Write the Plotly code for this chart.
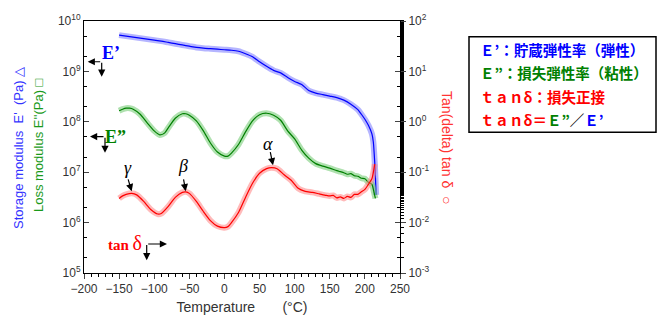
import numpy as np
import plotly.graph_objects as go

# ---------------- data ----------------
temp_e1 = [-150, -140, -130, -120, -110, -100, -90, -80, -70, -60, -50, -40, -30, -20, -10,
           0, 10, 20, 30, 40, 50, 60, 70, 80, 90, 100, 110, 120, 130, 140, 150, 160, 170,
           180, 190, 195, 200, 205, 210, 212, 214, 215, 216]
log_e1 = [9.72, 9.70, 9.68, 9.66, 9.64, 9.62, 9.60, 9.575, 9.55, 9.525, 9.50, 9.475, 9.46, 9.45, 9.44,
          9.43, 9.42, 9.40, 9.35, 9.29, 9.19, 9.10, 9.02, 8.97, 8.88, 8.80, 8.74, 8.62, 8.57, 8.54, 8.51, 8.48, 8.43,
          8.35, 8.24, 8.15, 8.05, 7.93, 7.76, 7.60, 7.20, 6.90, 6.55]

temp_e2 = [-150, -145, -140, -135, -130, -120, -110, -100, -92, -85, -80, -70, -60, -55, -50, -40, -30,
           -20, -10, 0, 5, 10, 20, 30, 40, 50, 60, 70, 80, 90, 100, 110, 120, 130, 140, 150, 160,
           165, 170, 175, 180, 185, 190, 195, 200, 205, 210, 213, 215]
log_e2 = [8.22, 8.25, 8.27, 8.27, 8.25, 8.15, 7.98, 7.82, 7.74, 7.78, 7.88, 8.07, 8.16, 8.16, 8.13, 8.02, 7.82,
          7.58, 7.40, 7.32, 7.32, 7.38, 7.55, 7.80, 8.02, 8.14, 8.17, 8.13, 8.03, 7.82, 7.66, 7.44, 7.28, 7.17, 7.12, 7.08, 7.03,
          7.01, 6.99, 6.96, 6.97, 6.93, 6.92, 6.88, 6.87, 6.80, 6.76, 6.60, 6.48]

temp_tan = [-150, -145, -140, -132, -125, -115, -105, -95, -90, -80, -70, -60, -55, -50, -40, -30, -20,
            -10, 0, 5, 10, 20, 30, 40, 50, 60, 67, 75, 85, 95, 105, 115, 125, 135, 145, 150, 155,
            160, 165, 170, 175, 180, 185, 190, 195, 200, 205, 210, 214]
log_tan = [-1.52, -1.47, -1.44, -1.42, -1.45, -1.58, -1.74, -1.83, -1.82, -1.68, -1.50, -1.40, -1.39, -1.42, -1.58, -1.78, -1.96,
           -2.07, -2.10, -2.08, -2.00, -1.80, -1.50, -1.22, -1.02, -0.93, -0.91, -0.93, -1.05, -1.16, -1.32, -1.38, -1.40, -1.43, -1.46, -1.47, -1.46,
           -1.51, -1.49, -1.52, -1.48, -1.50, -1.44, -1.44, -1.39, -1.34, -1.24, -1.13, -0.84]

x_ticks = [-200, -150, -100, -50, 0, 50, 100, 150, 200, 250]
left_exps = [5, 6, 7, 8, 9, 10]
right_exps = [-3, -2, -1, 0, 1, 2]

e_storage = [10 ** v for v in log_e1]
e_loss = [10 ** v for v in log_e2]
tan_delta = [10 ** v for v in log_tan]

BLUE, GREEN, RED = "#0000ff", "#008000", "#ff0000"
W, H = 672, 327
ML, MR, MT, MB = 84, 272, 15, 54
PW, PH = W - ML - MR, H - MT - MB


def px(x):
    return (x - ML) / PW


def py(y):
    return (H - MB - y) / PH


fig = go.Figure()


def add_series(t, v, color, halo, yaxis):
    fig.add_trace(go.Scatter(x=t, y=v, mode="lines", yaxis=yaxis, showlegend=False,
                             line=dict(color=halo, width=6, shape="spline", smoothing=0.6),
                             hoverinfo="skip"))
    fig.add_trace(go.Scatter(x=t, y=v, mode="lines", yaxis=yaxis, showlegend=False,
                             line=dict(color=color, width=1.2, shape="spline", smoothing=0.6)))


add_series(temp_e1, e_storage, BLUE, "rgba(120,120,255,0.55)", "y")
add_series(temp_e2, e_loss, GREEN, "rgba(110,200,110,0.55)", "y")
add_series(temp_tan, tan_delta, RED, "rgba(255,130,130,0.55)", "y2")

tick_font = dict(family="Liberation Sans, Arial", size=12, color="#333333")

fig.update_layout(
    width=W, height=H,
    margin=dict(l=ML, r=MR, t=MT, b=MB),
    paper_bgcolor="white", plot_bgcolor="white",
    xaxis=dict(range=[-200, 250], tickvals=x_ticks, ticks="outside", ticklen=5,
               showline=True, linecolor="black", linewidth=1, mirror=True,
               showgrid=False, zeroline=False, tickfont=tick_font,
               minor=dict(dtick=10, ticks="outside", ticklen=3, tickcolor="black"),
               title=dict(text="Temperature&nbsp;&nbsp;&nbsp;&nbsp;&nbsp;&nbsp;&nbsp;(°C)",
                          font=dict(family="Liberation Sans, Arial", size=14, color="#333333"),
                          standoff=6)),
    yaxis=dict(type="log", range=[5, 10], tickvals=[10 ** e for e in left_exps],
               ticktext=["10<sup>%d</sup>" % e for e in left_exps],
               ticks="inside", ticklen=5, showline=True, linecolor="black", mirror="ticks",
               showgrid=False, zeroline=False, tickfont=tick_font,
               minor=dict(ticks="inside", ticklen=3, tickcolor="black", showgrid=False)),
    yaxis2=dict(type="log", range=[-3, 2], overlaying="y", side="right",
                tickvals=[10 ** e for e in right_exps],
                ticktext=["10<sup>%d</sup>" % e for e in right_exps],
                ticks="outside", ticklen=5, showline=True, linecolor="black",
                showgrid=False, zeroline=False, tickfont=tick_font,
                minor=dict(ticks="outside", ticklen=3, tickcolor="black", showgrid=False)),
)

ann = []


def label(x, y, text, font, angle=0, xanchor="center"):
    ann.append(dict(xref="paper", yref="paper", x=px(x), y=py(y), showarrow=False, text=text,
                    textangle=angle, xanchor=xanchor, yanchor="middle", font=font))


# axis titles
label(19, 145, "Storage modulus  E'  (Pa) △",
      dict(family="Liberation Sans, Arial", size=13, color="#3333ff"), angle=-90)
label(38, 142, "Loss modulus E''(Pa) □",
      dict(family="Liberation Sans, Arial", size=13, color="#1a9a1a"), angle=-90)
label(447, 145, "Tan(delta) tan δ  ○",
      dict(family="Liberation Sans, Arial", size=14, color="#ff3333"), angle=90)

# curve labels
serif = "Liberation Serif, Times New Roman"
label(111, 48, "<b>E’</b>", dict(family=serif, size=18, color=BLUE))
label(115, 134, "<b>E”</b>", dict(family=serif, size=18, color=GREEN))
label(125, 242, "<b>tan</b> <span style='font-size:20px'>δ</span>", dict(family=serif, size=15, color=RED))


# corner arrows
def arrow(hx, hy, ax, ay):
    ann.append(dict(xref="paper", yref="paper", x=px(hx), y=py(hy), ax=ax, ay=ay, text="",
                    showarrow=True, arrowhead=2, arrowsize=1.2, arrowwidth=1.2, arrowcolor="black"))


arrow(87.7, 56.7, 14, 0)
arrow(101.7, 72, 0, -15.3)
arrow(90, 133.3, 15, 0)
arrow(105, 150, 0, -16.7)
arrow(167, 243.3, -20.3, 0)
arrow(146.7, 260, 0, -16.7)

# greek peak labels
for lab, lx, ly, hx, hy, tx, ty in [("γ", 128, 165, 131.7, 189.3, 127.7, 176),
                                    ("β", 183, 163, 185.7, 189.3, 183.3, 176),
                                    ("α", 268, 141, 273, 162.7, 270, 148)]:
    label(lx, ly, "<i>%s</i>" % lab, dict(family=serif, size=18, color="black"))
    arrow(hx, hy, tx - hx, ty - hy)

# legend text box
cjk = "Noto Sans CJK JP"
lines = [
    "<span style='color:%s'>Ｅ’：貯蔵弾性率（弾性）</span>" % BLUE,
    "<span style='color:%s'>Ｅ”：損失弾性率（粘性）</span>" % GREEN,
    "<span style='color:%s'>ｔａｎδ：損失正接</span>" % RED,
    "<span style='color:%s'>ｔａｎδ＝</span><span style='color:%s'>Ｅ”</span><span style='color:black'>／</span><span style='color:%s'>Ｅ’</span>" % (RED, GREEN, BLUE),
]
for i, t in enumerate(lines):
    label(478, 44 + i * 24, "<b>%s</b>" % t, dict(family=cjk, size=14.5), xanchor="left")

fig.update_layout(annotations=ann)
fig.add_shape(type="rect", xref="paper", yref="paper", x0=px(469), x1=px(656), y0=py(31), y1=py(129),
              line=dict(color="black", width=1.5), fillcolor="rgba(0,0,0,0)")

fig.write_html("out.html")
